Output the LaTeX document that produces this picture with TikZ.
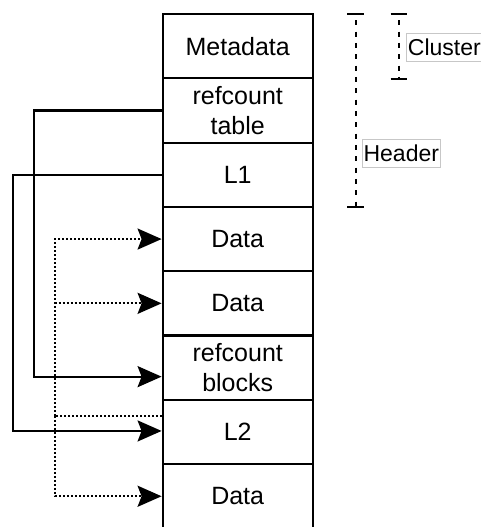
\documentclass[tikz,border=0pt]{standalone}
\usepackage{fontspec}
\setmainfont{Liberation Sans}
\usetikzlibrary{arrows.meta,calc}

\tikzset{
  headtip/.style={-{Stealth[length=24pt,width=21pt,inset=4pt]}},
  cell/.style={draw, line width=2.2pt, minimum width=150pt, minimum height=64.3pt,
    inner sep=0pt, align=center, font=\fontsize{25}{30}\selectfont},
  link/.style={line width=2.2pt, headtip},
  dotlink/.style={line width=2.2pt, dash pattern=on 2pt off 2pt, headtip},
  dotline/.style={line width=2.2pt, dash pattern=on 2pt off 2pt},
  span/.style={line width=1.8pt, dash pattern=on 5pt off 6.33pt, dash phase=5pt},
  bar/.style={line width=2.2pt},
  tag/.style={draw=black!22, fill=white, line width=0.8pt, inner xsep=1.5pt,
    inner ysep=0pt, minimum height=28.5pt, anchor=west,
    font=\fontsize{23}{27}\selectfont}
}

\begin{document}
\begin{tikzpicture}[x=1pt, y=-1pt]
\useasboundingbox (0,0) rectangle (480,527);

% cluster layout, one cell per row
\node[cell] (md)  at (237.7, 46.15)  {Metadata};
\node[cell] (rt)  at (237.7, 110.45) {refcount\\table};
\node[cell] (l1)  at (237.7, 174.75) {L1};
\node[cell] (d1)  at (237.7, 239.05) {Data};
\node[cell] (d2)  at (237.7, 303.35) {Data};
\node[cell] (rb)  at (237.7, 367.65) {refcount\\blocks};
\node[cell] (l2)  at (237.7, 431.95) {L2};
\node[cell] (d3)  at (237.7, 496.25) {Data};

% routing lanes on the left
\coordinate (laneB) at (12.7, 0);
\coordinate (laneA) at (34, 0);
\coordinate (laneC) at (55.3, 0);

% refcount table -> refcount blocks
\coordinate (rbIn) at ($(rb.west)+(0,9)$);
\draw[link] (rt.west) -- (rt.west -| laneA) -- (laneA |- rbIn) -- (rbIn);

% L1 -> L2
\coordinate (l2In) at ($(l2.west)+(0,-1)$);
\draw[link] (l1.west) -- (l1.west -| laneB) -- (laneB |- l2In) -- (l2In);

% L2 -> data clusters (dotted)
\coordinate (l2Out) at ($(l2.west)+(0,-16)$);
\coordinate (split) at (laneC |- l2Out);
\draw[dotline] (l2Out) -- (split);
\draw[dotlink] (split) |- (d1.west);
\draw[dotlink] (split) |- (d2.west);
\draw[dotlink] (split) |- (d3.west);

% extent markers
\coordinate (hTop) at (355.7, 14);
\coordinate (hBot) at (355.7, 207);
\draw[span] (hTop) -- (hBot);
\draw[bar] ($(hTop)+(-8.5,0)$) -- ($(hTop)+(8.5,0)$);
\draw[bar] ($(hBot)+(-8.5,0)$) -- ($(hBot)+(8.5,0)$);

\coordinate (cTop) at (398.7, 14);
\coordinate (cBot) at (398.7, 78.7);
\draw[span] (cTop) -- (cBot);
\draw[bar] ($(cTop)+(-8,0)$) -- ($(cTop)+(8,0)$);
\draw[bar] ($(cBot)+(-8,0)$) -- ($(cBot)+(8,0)$);

\node[tag] (cl) at (406, 47.5) {Cluster};
\node[tag] (hd) at (361.7, 153.5) {Header};
\end{tikzpicture}
\end{document}
